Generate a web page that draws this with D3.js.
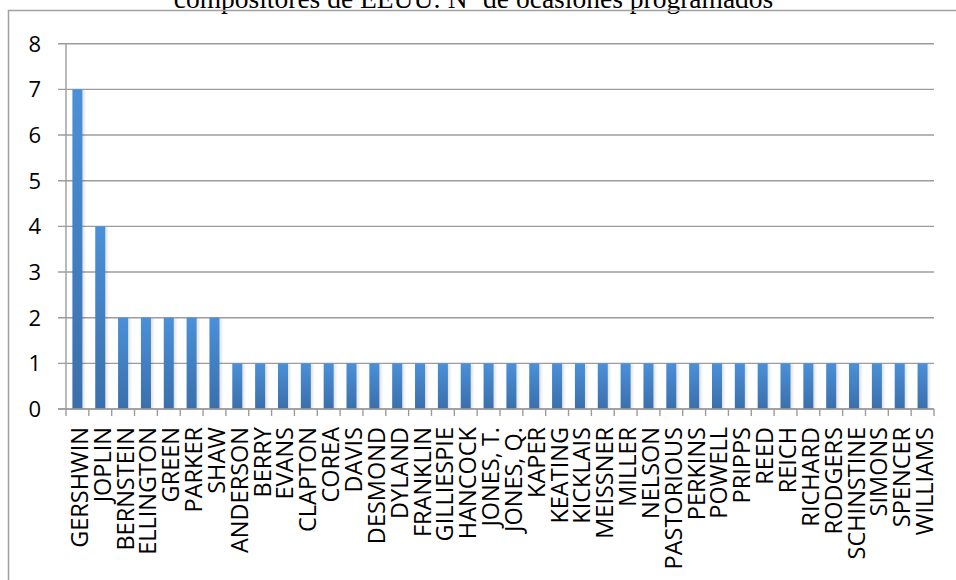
<!DOCTYPE html>
<html>
<head>
<meta charset="utf-8">
<script src="https://cdn.jsdelivr.net/npm/d3@7"></script>
<style>
  body { margin: 0; background: #fff; }
  svg { display: block; }
</style>
</head>
<body>
<div id="chart"></div>
<script>
var title = "compositores de EEUU: Nº de ocasiones programados";

var composers = ["GERSHWIN", "JOPLIN", "BERNSTEIN", "ELLINGTON", "GREEN", "PARKER", "SHAW",
    "ANDERSON", "BERRY", "EVANS", "CLAPTON", "COREA", "DAVIS", "DESMOND", "DYLAND",
    "FRANKLIN", "GILLIESPIE", "HANCOCK", "JONES, T.", "JONES, Q.", "KAPER", "KEATING",
    "KICKLAIS", "MEISSNER", "MILLER", "NELSON", "PASTORIOUS", "PERKINS", "POWELL",
    "PRIPPS", "REED", "REICH", "RICHARD", "RODGERS", "SCHINSTINE", "SIMONS", "SPENCER",
    "WILLIAMS"];

var counts = [7, 4, 2, 2, 2, 2, 2,
    1, 1, 1, 1, 1, 1, 1, 1,
    1, 1, 1, 1, 1, 1, 1,
    1, 1, 1, 1, 1, 1, 1,
    1, 1, 1, 1, 1, 1, 1, 1,
    1];

var yTicks = [0, 1, 2, 3, 4, 5, 6, 7, 8];

var width = 956,
    height = 580;
var margin = {top: 43.7, right: 22, bottom: 171, left: 66};
var plotW = width - margin.left - margin.right,
    plotH = height - margin.top - margin.bottom;

var svg = d3.select("#chart").append("svg")
    .attr("width", width)
    .attr("height", height);

var defs = svg.append("defs");
var grad = defs.append("linearGradient")
    .attr("id", "barGrad")
    .attr("x1", 0).attr("y1", 0).attr("x2", 0).attr("y2", 1);
grad.append("stop").attr("offset", "0%").attr("stop-color", "#4a90d9");
grad.append("stop").attr("offset", "100%").attr("stop-color", "#3a6fab");

var shadow = defs.append("linearGradient")
    .attr("id", "shadowGrad")
    .attr("x1", 0).attr("y1", 0).attr("x2", 1).attr("y2", 0);
shadow.append("stop").attr("offset", "0%").attr("stop-color", "#000").attr("stop-opacity", 0.12);
shadow.append("stop").attr("offset", "100%").attr("stop-color", "#000").attr("stop-opacity", 0);

svg.append("text")
    .attr("x", 473.5)
    .attr("y", 8)
    .attr("text-anchor", "middle")
    .style("font-family", "'Liberation Serif', 'Times New Roman', serif")
    .style("font-size", "27.5px")
    .attr("fill", "#000")
    .text(title);

// chart frame (only top and left edges fall inside the picture)
svg.append("path")
    .attr("d", "M8.5," + (height + 5) + "V10.5H" + (width + 5))
    .attr("fill", "none")
    .attr("stroke", "#a0a0a0")
    .attr("stroke-width", 1.5);

var g = svg.append("g")
    .attr("transform", "translate(" + margin.left + "," + margin.top + ")");

var x = d3.scaleBand().domain(composers).range([0, plotW]).paddingInner(0).paddingOuter(0);
var y = d3.scaleLinear().domain([0, 8]).range([plotH, 0]);

// gridlines
g.selectAll(".grid")
    .data(yTicks)
    .enter().append("line")
    .attr("class", "grid")
    .attr("x1", -8)
    .attr("x2", plotW)
    .attr("y1", function (d) { return y(d); })
    .attr("y2", function (d) { return y(d); })
    .attr("stroke", "#9c9c9c")
    .attr("stroke-width", 1.4);

// y axis line
g.append("line")
    .attr("x1", 0).attr("x2", 0)
    .attr("y1", 0).attr("y2", plotH)
    .attr("stroke", "#9c9c9c")
    .attr("stroke-width", 1.4);

g.selectAll(".ylab")
    .data(yTicks)
    .enter().append("text")
    .attr("class", "ylab")
    .attr("x", -25)
    .attr("y", function (d) { return y(d); })
    .attr("dy", "0.36em")
    .attr("text-anchor", "end")
    .style("font-family", "'Open Sans', sans-serif")
    .style("font-size", "22px")
    .attr("fill", "#000")
    .text(function (d) { return d; });

// x tick marks
g.selectAll(".xtick")
    .data(d3.range(composers.length + 1))
    .enter().append("line")
    .attr("class", "xtick")
    .attr("x1", function (i) { return i * x.step(); })
    .attr("x2", function (i) { return i * x.step(); })
    .attr("y1", plotH)
    .attr("y2", plotH + 7)
    .attr("stroke", "#9c9c9c")
    .attr("stroke-width", 1.4);

var barW = x.bandwidth() * 0.44;

// bar shadows
g.selectAll(".shadow")
    .data(counts)
    .enter().append("rect")
    .attr("class", "shadow")
    .attr("x", function (d, i) { return x(composers[i]) + x.bandwidth() / 2 + barW / 2; })
    .attr("y", function (d) { return y(d) + 1; })
    .attr("width", 4)
    .attr("height", function (d) { return plotH - y(d) - 1; })
    .attr("fill", "url(#shadowGrad)");

g.selectAll(".bar")
    .data(counts)
    .enter().append("rect")
    .attr("class", "bar")
    .attr("x", function (d, i) { return x(composers[i]) + x.bandwidth() / 2 - barW / 2; })
    .attr("y", function (d) { return y(d); })
    .attr("width", barW)
    .attr("height", function (d) { return plotH - y(d); })
    .attr("fill", "url(#barGrad)");

// x axis line
g.append("line")
    .attr("x1", -8).attr("x2", plotW)
    .attr("y1", plotH).attr("y2", plotH)
    .attr("stroke", "#9c9c9c")
    .attr("stroke-width", 1.4);

g.selectAll(".xlab")
    .data(composers)
    .enter().append("text")
    .attr("class", "xlab")
    .attr("transform", function (d) {
        return "translate(" + (x(d) + x.bandwidth() / 2 + 2) + "," + (plotH + 18) + ")rotate(-90)";
    })
    .attr("dy", "0.36em")
    .attr("text-anchor", "end")
    .style("font-family", "'Open Sans', sans-serif")
    .style("font-size", "23.5px")
    .attr("fill", "#000")
    .text(function (d) { return d; });
</script>
</body>
</html>
